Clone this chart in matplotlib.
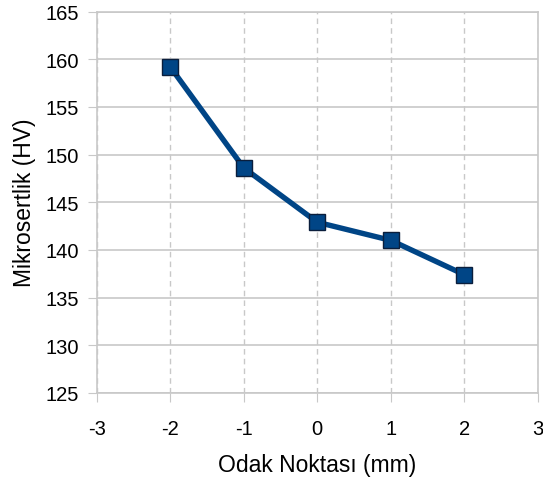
import matplotlib
matplotlib.use('Agg')
from matplotlib import pyplot as plt

plt.rcParams['font.family'] = ['Liberation Sans', 'DejaVu Sans']
plt.rcParams['axes.unicode_minus'] = False  # plain hyphen like the original

odak = [-2, -1, 0, 1, 2]  # focal point (mm)
sertlik = [159.2, 148.6, 142.9, 141.0, 137.4]  # microhardness (HV)
x_ticks = [-3, -2, -1, 0, 1, 2, 3]
y_ticks = [125, 130, 135, 140, 145, 150, 155, 160, 165]

fig = plt.figure(figsize=(5.43, 4.81), dpi=100)
ax = fig.add_axes([0.178, 0.181, 0.8127, 0.793])

# grid: solid horizontal, dashed vertical
ax.yaxis.grid(True, color='#c8c8c8', linestyle='-', linewidth=1.2)
ax.xaxis.grid(True, color='#c8c8c8', linestyle=(0, (4, 3)), linewidth=1.0)
ax.set_axisbelow(True)

ax.plot(odak, sertlik, color='#004586', linewidth=3.9, marker='s', markersize=12,
        markerfacecolor='#004586', markeredgecolor='#0a1e3c', markeredgewidth=1.0, zorder=3)

ax.set_xlim(-3, 3)
ax.set_ylim(125, 165)
ax.set_xticks(x_ticks)
ax.set_yticks(y_ticks)
ax.tick_params(axis='both', labelsize=14.5, length=6.5, color='#c8c8c8')
ax.tick_params(axis='x', pad=12)
ax.tick_params(axis='y', pad=6)

for s in ax.spines.values():
    s.set_color('#c8c8c8')
    s.set_linewidth(1.2)

ax.set_xlabel('Odak Noktası (mm)', fontsize=16.5, labelpad=11)
ax.set_ylabel('Mikrosertlik (HV)', fontsize=16.5, labelpad=7)

plt.savefig('out.png', dpi=100)
